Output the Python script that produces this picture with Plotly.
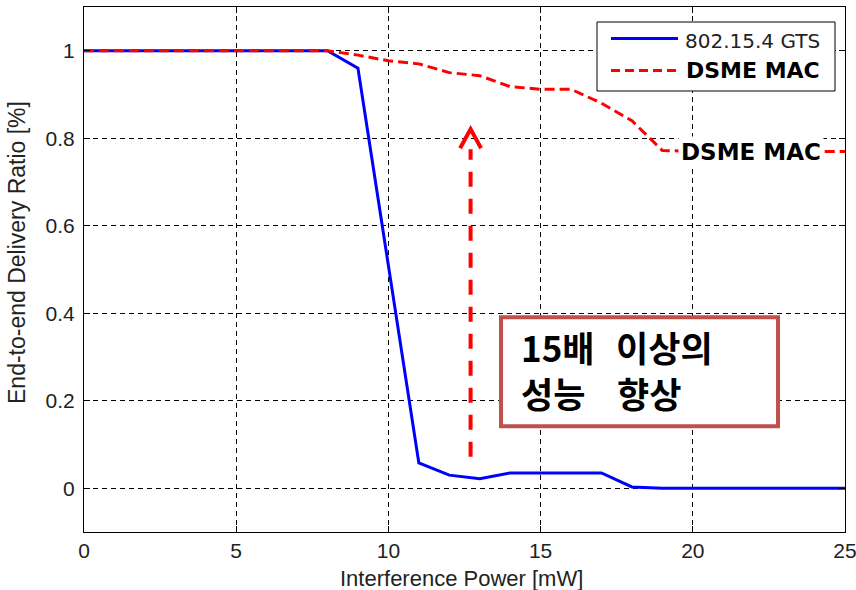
import plotly.graph_objects as go

# ---- data ----
power_mw = [0, 1, 2, 3, 4, 5, 6, 7, 8, 9, 10, 11, 12, 13, 14, 15, 16, 17, 18, 19, 20, 21, 22, 23, 24, 25]
gts_ratio = [1, 1, 1, 1, 1, 1, 1, 1, 1, 0.96, 0.51, 0.058, 0.03, 0.022, 0.035, 0.035, 0.035, 0.035,
             0.003, 0, 0, 0, 0, 0, 0, 0]
dsme_ratio = [1, 1, 1, 1, 1, 1, 1, 1, 1, 0.99, 0.977, 0.97, 0.95, 0.943, 0.918, 0.912, 0.912, 0.88,
              0.84, 0.772, 0.77, 0.77, 0.77, 0.77, 0.77, 0.77]

series_names = ["802.15.4 GTS", "DSME MAC"]
x_ticks = [0, 5, 10, 15, 20, 25]
x_tick_text = ["0", "5", "10", "15", "20", "25"]
y_ticks = [0, 0.2, 0.4, 0.6, 0.8, 1]
y_tick_text = ["0", "0.2", "0.4", "0.6", "0.8", "1"]
x_title = "Interference Power [mW]"
y_title = "End-to-end Delivery Ratio [%]"
callout_words = [["15배", "이상의"], ["성능", "향상"]]
series_label = "DSME MAC"

# ---- styling / layout geometry ----
W, H = 856, 590
ML, MR, MT, MB = 84, 11, 7, 58
PW, PH = W - ML - MR, H - MT - MB

def px(xp):   # pixel x -> paper x
    return (xp - ML) / PW

def py(yp):   # pixel y -> paper y
    return (H - MB - yp) / PH

BLUE = "#0000FF"
RED = "#FF0000"
BOX = "#C0504D"
TICK_FONT = dict(family="Liberation Sans, Arial, sans-serif", size=21, color="#222222")
XTITLE_FONT = dict(family="Liberation Sans, Arial, sans-serif", size=22, color="#222222")
YTITLE_FONT = dict(family="Liberation Sans, Arial, sans-serif", size=23, color="#222222")

fig = go.Figure()
fig.add_trace(go.Scatter(x=power_mw, y=gts_ratio, mode="lines", name=series_names[0],
                         line=dict(color=BLUE, width=3), showlegend=False))
fig.add_trace(go.Scatter(x=power_mw, y=dsme_ratio, mode="lines", name=series_names[1],
                         line=dict(color=RED, width=3, dash="10px,5px"), showlegend=False))

# arrow (dashed shaft + open head)
arrow_x = 12.7
fig.add_shape(type="line", xref="x", yref="y", x0=arrow_x, x1=arrow_x, y0=0.072, y1=0.775,
              line=dict(color=RED, width=4, dash="15px,12px"), layer="above")
fig.add_shape(type="path", xref="x", yref="y",
              path=f"M {arrow_x-0.345},0.777 L {arrow_x},0.821 L {arrow_x+0.345},0.777",
              line=dict(color=RED, width=4), layer="above")

# callout box
fig.add_shape(type="rect", xref="x", yref="y", x0=13.70, x1=22.80, y0=0.142, y1=0.391,
              line=dict(color=BOX, width=4), fillcolor="white", layer="above")

word_pos = [[(14.30, 0.325), (17.40, 0.325)], [(14.30, 0.220), (17.45, 0.220)]]
for line_words, line_pos in zip(callout_words, word_pos):
    for w, (wx, wy) in zip(line_words, line_pos):
        fig.add_annotation(x=wx, y=wy, xref="x", yref="y", text=w, showarrow=False,
                           xanchor="left", yanchor="middle",
                           font=dict(family="Noto Sans CJK KR", size=35, color="black", weight="bold"))

# inline series label
fig.add_annotation(x=21.90, y=0.769, xref="x", yref="y", text="<b>" + series_label + "</b>",
                   showarrow=False, xanchor="center", yanchor="middle", bgcolor="white",
                   borderpad=2,
                   font=dict(family="DejaVu Sans", size=23, color="black"))

# legend box (drawn manually to match the reference's proportions)
fig.add_shape(type="rect", xref="paper", yref="paper", x0=px(597), x1=px(835), y0=py(91), y1=py(22),
              line=dict(color="black", width=1), fillcolor="white", layer="above")
fig.add_shape(type="line", xref="paper", yref="paper", x0=px(611), x1=px(678), y0=py(38.5), y1=py(38.5),
              line=dict(color=BLUE, width=3), layer="above")
fig.add_shape(type="line", xref="paper", yref="paper", x0=px(611), x1=px(678), y0=py(70.5), y1=py(70.5),
              line=dict(color=RED, width=3, dash="9px,5px"), layer="above")
fig.add_annotation(x=px(683), y=py(41), xref="paper", yref="paper", text=series_names[0],
                   showarrow=False, xanchor="left", yanchor="middle",
                   font=dict(family="DejaVu Sans", size=20, color="#222222"))
fig.add_annotation(x=px(684), y=py(70), xref="paper", yref="paper", text="<b>" + series_names[1] + "</b>",
                   showarrow=False, xanchor="left", yanchor="middle",
                   font=dict(family="DejaVu Sans", size=22, color="black"))

# axis titles
fig.add_annotation(x=px(461), y=py(578), xref="paper", yref="paper", text=x_title, showarrow=False,
                   xanchor="center", yanchor="middle", font=XTITLE_FONT)
fig.add_annotation(x=px(17), y=py(253), xref="paper", yref="paper", text=y_title, showarrow=False,
                   xanchor="center", yanchor="middle", textangle=-90, font=YTITLE_FONT)

axis_common = dict(showline=True, linecolor="black", linewidth=1, mirror="ticks",
                   ticks="inside", ticklen=6, tickcolor="black", showgrid=True,
                   gridcolor="black", gridwidth=1, griddash="5px,4px", zeroline=False,
                   tickfont=TICK_FONT, automargin=False, ticklabeloverflow="allow")

fig.update_xaxes(range=[0, 25], tickvals=x_ticks, ticktext=x_tick_text, **axis_common)
fig.update_yaxes(range=[-0.1, 1.1], tickvals=y_ticks, ticktext=y_tick_text,
                 ticklabelstandoff=4, **axis_common)

fig.update_layout(
    width=W, height=H,
    margin=dict(l=ML, r=MR, t=MT, b=MB, autoexpand=False),
    paper_bgcolor="white", plot_bgcolor="white",
    showlegend=False,
)

fig.write_html("out.html", config={"displayModeBar": False},
               post_script="document.body.style.margin='0';document.body.style.overflow='hidden';")
